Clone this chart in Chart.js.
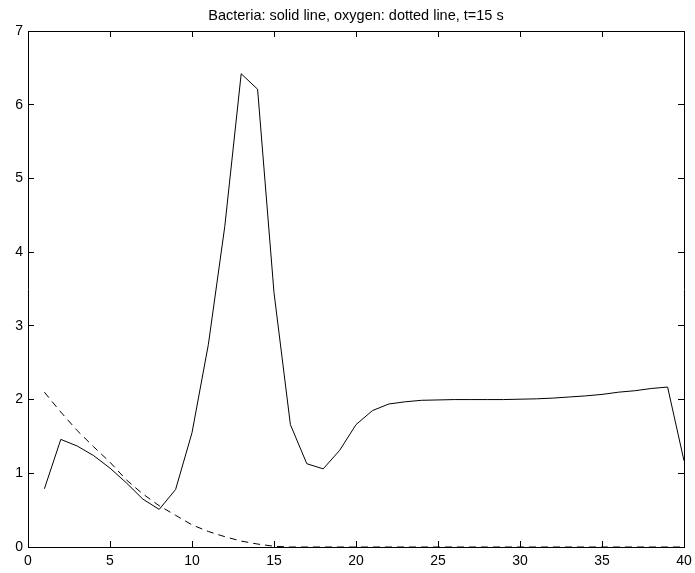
<!DOCTYPE html>
<html>
<head>
<meta charset="utf-8">
<script src="https://cdn.jsdelivr.net/npm/chart.js@4/dist/chart.umd.min.js"></script>
<style>
  html, body { margin: 0; padding: 0; background: #fff; }
  #wrap { width: 695px; height: 573px; }
</style>
</head>
<body>
<div id="wrap"><canvas id="c" width="695" height="573"></canvas></div>
<script>
const xValues = [1,2,3,4,5,6,7,8,9,10,11,12,13,14,15,16,17,18,19,20,21,22,23,24,25,26,27,28,29,30,31,32,33,34,35,36,37,38,39,40];
const bacteria = [0.79,1.46,1.37,1.24,1.07,0.87,0.65,0.51,0.78,1.55,2.75,4.35,6.42,6.21,3.45,1.66,1.13,1.06,1.31,1.66,1.85,1.94,1.97,1.99,1.995,2.0,2.0,2.0,2.0,2.005,2.01,2.02,2.035,2.05,2.07,2.1,2.12,2.15,2.17,1.17];
const oxygen = [2.1,1.83,1.58,1.36,1.15,0.91,0.72,0.56,0.43,0.30,0.21,0.14,0.08,0.04,0.01,0,0,0,0,0,0,0,0,0,0,0,0,0,0,0,0,0,0,0,0,0,0,0,0,0];
const xTicks = [0,5,10,15,20,25,30,35,40];
const yTicks = [0,1,2,3,4,5,6,7];
const titleText = 'Bacteria: solid line, oxygen: dotted line, t=15 s';

const FONT = "'Liberation Sans', Arial, Helvetica, sans-serif";

function axis(pos, min, max, ticks, showLabels, labelPad, size, title) {
  const horizontal = (pos === 'top' || pos === 'bottom');
  const cfg = {
    type: 'linear',
    position: pos,
    min: min, max: max,
    afterBuildTicks(s) { s.ticks = ticks.map(v => ({value: v})); },
    afterFit(s) {
      if (horizontal) s.height = size; else s.width = size;
      s.paddingLeft = 0; s.paddingRight = 0;
      s.paddingTop = 0; s.paddingBottom = 0;
    },
    grid: {
      display: true,
      drawOnChartArea: false,
      drawTicks: true,
      tickLength: -6,
      color: '#000',
      lineWidth: 1
    },
    border: { display: true, color: '#000', width: 1 },
    ticks: {
      display: showLabels,
      color: '#000',
      padding: labelPad,
      maxRotation: 0,
      autoSkip: false,
      font: { family: FONT, size: 14 }
    }
  };
  if (title) {
    cfg.title = {
      display: true,
      text: title,
      color: '#000',
      font: { family: FONT, size: 14.5, weight: 'normal', lineHeight: 1.2 },
      padding: { top: 6.8, bottom: 6.8 }
    };
  }
  return cfg;
}

new Chart(document.getElementById('c'), {
  type: 'line',
  data: {
    datasets: [
      {
        label: 'bacteria',
        data: xValues.map((x, i) => ({x, y: bacteria[i]})),
        borderColor: '#000',
        borderWidth: 1,
        pointRadius: 0,
        tension: 0,
        fill: false,
        xAxisID: 'x',
        yAxisID: 'y'
      },
      {
        label: 'oxygen',
        data: xValues.map((x, i) => ({x, y: oxygen[i]})),
        borderColor: '#000',
        borderWidth: 1,
        borderDash: [7, 5],
        pointRadius: 0,
        tension: 0,
        fill: false,
        xAxisID: 'x',
        yAxisID: 'y'
      }
    ]
  },
  options: {
    responsive: false,
    animation: false,
    devicePixelRatio: 1,
    layout: { padding: { left: 0, right: 11, top: 0, bottom: 0 } },
    plugins: {
      legend: { display: false },
      tooltip: { enabled: false },
      title: { display: false }
    },
    scales: {
      x: axis('bottom', 0, 40, xTicks, true, 12, 26),
      x2: axis('top', 0, 40, xTicks, false, 0, 31, titleText),
      y: axis('left', 0, 7, yTicks, true, 11, 28),
      y2: axis('right', 0, 7, yTicks, false, 0, 0)
    }
  }
});
</script>
</body>
</html>
